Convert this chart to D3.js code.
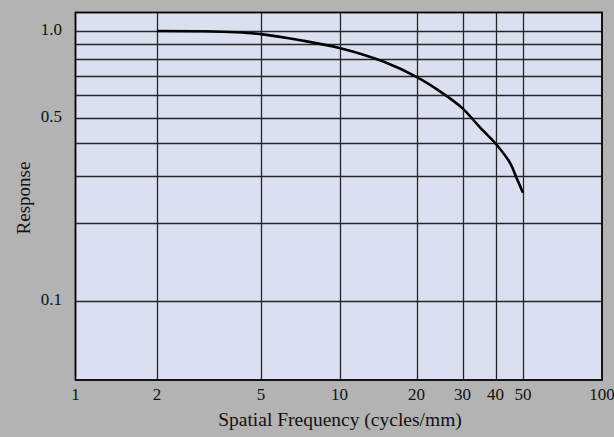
<!DOCTYPE html>
<html lang="en">
<head>
    <meta charset="UTF-8">
    <title>Response vs Spatial Frequency</title>
    <script src="https://cdnjs.cloudflare.com/ajax/libs/d3/7.8.5/d3.min.js"></script>
    <style>
        body { margin: 0; background: #b3b3b3; }
        text { font-family: "Liberation Serif", "DejaVu Serif", serif; fill: #111; }
    </style>
</head>
<body>
    <div id="chart"></div>
    <script>
        var w = 614;
        var h = 437;

        // curve
        var frequency = [2, 3, 4, 5, 7, 10, 15, 20, 25, 30, 35, 40, 45, 47.5, 50];
        var response = [1.0, 0.998, 0.99, 0.975, 0.93, 0.873, 0.78, 0.692, 0.61, 0.538, 0.458, 0.399, 0.337, 0.295, 0.26];

        var xTicks = [1, 2, 5, 10, 20, 30, 40, 50, 100];
        var yGrid = [0.1, 0.2, 0.3, 0.4, 0.5, 0.6, 0.7, 0.8, 0.9, 1.0];
        var yLabels = [0.1, 0.5, 1.0];

        // plot box (don't call these top/left, window.top is read-only)
        var pLeft = 75.5, pRight = 602, pTop = 12.5, pBottom = 380;

        // the printed grid is not a perfect log spacing, so pin the gridlines
        var x = d3.scaleLog()
            .domain([1, 2, 5, 10, 20, 30, 40, 50, 100])
            .range([pLeft, 157, 261, 339.5, 416.5, 462.5, 495.5, 523, pRight]);

        var y = d3.scaleLog()
            .domain([0.1, 0.2, 0.5, 1.0])
            .range([300.5, 223, 117.5, 31]);

        var svg = d3.select("#chart")
            .append("svg")
            .attr("width", w)
            .attr("height", h);

        svg.append("rect")
            .attr("width", w)
            .attr("height", h)
            .attr("fill", "#b3b3b3");

        svg.append("rect")
            .attr("x", pLeft)
            .attr("y", pTop)
            .attr("width", pRight - pLeft)
            .attr("height", pBottom - pTop)
            .attr("fill", "#dbe0f0");

        //horizontal grid
        svg.selectAll(".hgrid")
            .data(yGrid)
            .enter()
            .append("line")
            .attr("x1", pLeft)
            .attr("x2", pRight)
            .attr("y1", function (d) { return Math.round(y(d)) + 0.5; })
            .attr("y2", function (d) { return Math.round(y(d)) + 0.5; })
            .attr("stroke", "#262626")
            .attr("stroke-width", 1.3);

        //vertical grid
        svg.selectAll(".vgrid")
            .data(xTicks.slice(1, -1))
            .enter()
            .append("line")
            .attr("x1", function (d) { return Math.round(x(d)) + 0.5; })
            .attr("x2", function (d) { return Math.round(x(d)) + 0.5; })
            .attr("y1", pTop)
            .attr("y2", pBottom)
            .attr("stroke", "#262626")
            .attr("stroke-width", 1.3);

        //frame
        svg.append("rect")
            .attr("x", pLeft)
            .attr("y", pTop)
            .attr("width", pRight - pLeft)
            .attr("height", pBottom - pTop)
            .attr("fill", "none")
            .attr("stroke", "#000")
            .attr("stroke-width", 1.8);

        var line = d3.line()
            .x(function (d, i) { return x(frequency[i]); })
            .y(function (d) { return y(d); })
            .curve(d3.curveCatmullRom.alpha(0.5));

        svg.append("path")
            .datum(response)
            .attr("d", line)
            .attr("fill", "none")
            .attr("stroke", "#000")
            .attr("stroke-width", 2.6);

        //x tick labels
        svg.selectAll(".xlab")
            .data(xTicks)
            .enter()
            .append("text")
            .attr("x", function (d) { return x(d); })
            .attr("y", 400)
            .attr("text-anchor", "middle")
            .attr("font-size", "17px")
            .text(function (d) { return d; });

        //y tick labels
        svg.selectAll(".ylab")
            .data(yLabels)
            .enter()
            .append("text")
            .attr("x", 62)
            .attr("y", function (d) { return y(d) + 4; })
            .attr("text-anchor", "end")
            .attr("font-size", "17px")
            .text(function (d) { return d.toFixed(1); });

        svg.append("text")
            .attr("x", 340)
            .attr("y", 426)
            .attr("text-anchor", "middle")
            .attr("font-size", "19.5px")
            .text("Spatial Frequency (cycles/mm)");

        svg.append("text")
            .attr("transform", "translate(29.5,198) rotate(-90)")
            .attr("text-anchor", "middle")
            .attr("font-size", "19px")
            .text("Response");
    </script>
</body>
</html>
